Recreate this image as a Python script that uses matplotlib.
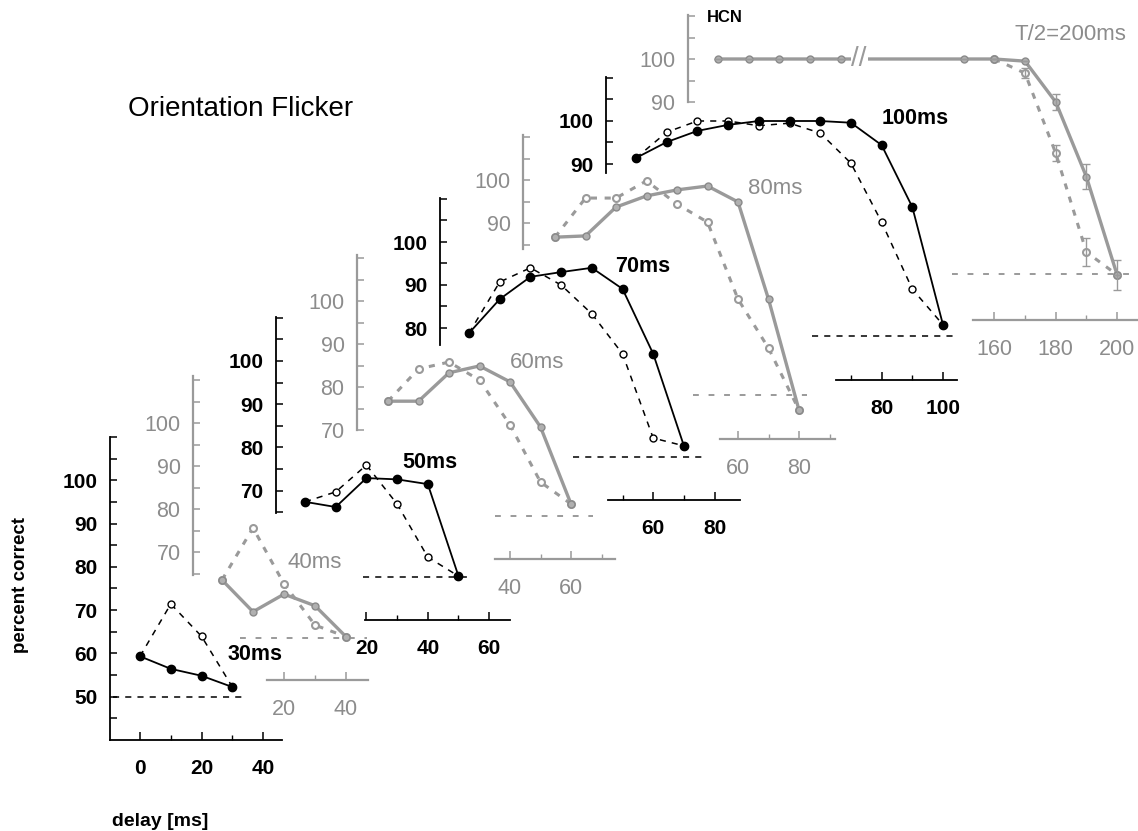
import numpy as np
import matplotlib
matplotlib.use('Agg')
import matplotlib.pyplot as plt

plt.rcParams['font.family'] = ['Liberation Sans', 'DejaVu Sans']

W, H = 1138, 831

#-------------------------------------------------------------------------
# data (percent correct vs delay in ms)
#-------------------------------------------------------------------------
delay_30 = [0, 10, 20, 30]
solid_30 = [59.3, 56.4, 54.8, 52.2]
dashed_30 = [59.3, 71.4, 63.9, 52.2]

delay_40 = [0, 10, 20, 30, 40]
solid_40 = [63.5, 56.1, 60.2, 57.5, 50.3]
dashed_40 = [63.5, 75.6, 62.6, 53.0, 50.3]

delay_50 = [0, 10, 20, 30, 40, 50]
solid_50 = [67.4, 66.2, 72.9, 72.6, 71.5, 50.2]
dashed_50 = [67.4, 69.7, 75.9, 66.9, 54.6, 50.2]

delay_60 = [0, 10, 20, 30, 40, 50, 60]
solid_60 = [76.7, 76.7, 83.3, 84.9, 81.2, 70.7, 52.8]
dashed_60 = [76.7, 84.2, 85.8, 81.6, 71.2, 57.9, 52.8]

delay_70 = [0, 10, 20, 30, 40, 50, 60, 70]
solid_70 = [78.8, 86.7, 91.9, 93.0, 94.0, 89.1, 74.0, 52.6]
dashed_70 = [78.8, 90.7, 94.0, 90.0, 83.3, 74.0, 54.4, 52.6]

delay_80 = [0, 10, 20, 30, 40, 50, 60, 70, 80]
solid_80 = [86.7, 87.0, 93.7, 96.3, 97.7, 98.6, 94.9, 72.3, 46.5]
dashed_80 = [86.7, 95.8, 95.8, 99.8, 94.4, 90.2, 72.3, 60.9, 46.5]

delay_100 = [0, 10, 20, 30, 40, 50, 60, 70, 80, 90, 100]
solid_100 = [91.4, 95.1, 97.7, 99.1, 100, 100, 100, 99.6, 94.4, 80.0, 52.6]
dashed_100 = [91.4, 97.4, 100, 100, 98.9, 99.5, 97.2, 90.2, 76.5, 60.9, 52.6]

delay_hcn = [0, 10, 20, 30, 40, 150, 160, 170, 180, 190, 200]
solid_hcn = [100, 100, 100, 100, 100, 100, 100, 99.5, 90.0, 72.6, 49.8]
solid_hcn_err = [0, 0, 0, 0, 0, 0, 0, 0, 1.9, 2.9, 3.5]
delay_hcn_dashed = [160, 170, 180, 190, 200]
dashed_hcn = [100, 96.7, 78.1, 55.1, 49.8]
dashed_hcn_err = [0, 1.2, 1.8, 3.3, 0]

CHANCE = 50

BLACK = 'black'
GRAY = '#9a9a9a'
GRAY_TXT = '#8c8c8c'


# broken x axis of the HCN panel: 40..150 ms squeezed
def hcn_fwd(x):
    x = np.asarray(x, dtype=float)
    return np.where(x <= 40, x, np.where(x >= 150, x - 70, 40 + (x - 40) * 40 / 110))


def hcn_inv(u):
    u = np.asarray(u, dtype=float)
    return np.where(u <= 40, u, np.where(u >= 80, u + 70, 40 + (u - 40) * 110 / 40))


def fpos(x, y):
    return x / W, 1 - y / H


def make_panel(fig, box, x0, sx, y100, sy, ybound, xbound, yticks, yminor,
               xticks, xminor, gray=False, hcn=False):
    left, top, right, bottom = box
    ax = fig.add_axes([left / W, 1 - bottom / H, (right - left) / W, (bottom - top) / H])
    ax.patch.set_visible(False)
    col = GRAY if gray else BLACK
    tcol = GRAY_TXT if gray else BLACK
    weight = 'normal' if gray else 'bold'
    if hcn:
        ax.set_xscale('function', functions=(hcn_fwd, hcn_inv))
        ax.set_xlim(float(hcn_inv((left - x0) / sx)), float(hcn_inv((right - x0) / sx)))
    else:
        ax.set_xlim((left - x0) / sx, (right - x0) / sx)
    ax.set_ylim(100 - (bottom - y100) / sy, 100 - (top - y100) / sy)
    for s in ['top', 'right']:
        ax.spines[s].set_visible(False)
    for s in ['left', 'bottom']:
        ax.spines[s].set_color(col)
        ax.spines[s].set_linewidth(1.6 if gray else 1.3)
    ax.spines['left'].set_bounds(*ybound)
    ax.spines['bottom'].set_bounds(*xbound)
    ax.set_yticks(yticks, labels=[str(v) for v in yticks])
    ax.set_yticks(yminor, minor=True)
    ax.set_xticks(xticks, labels=[str(v) for v in xticks])
    ax.set_xticks(xminor, minor=True)
    ax.tick_params(axis='y', which='both', direction='in', length=5, width=1.1,
                   color=col, pad=9)
    ax.tick_params(axis='x', which='major', direction='in', length=6, width=1.1,
                   color=col, pad=14)
    ax.tick_params(axis='x', which='minor', direction='in', length=3.5, width=1.0,
                   color=col)
    for t in ax.get_xticklabels() + ax.get_yticklabels():
        t.set_fontsize(15 if not gray else 15.5)
        t.set_fontweight(weight)
        t.set_color(tcol)
    return ax


def draw_curves(ax, d, solid, dashed, gray=False, d_dash=None):
    if d_dash is None:
        d_dash = d
    if gray:
        ax.plot(d_dash, dashed, color=GRAY, lw=2.2, ls=(0, (2, 2.5)), marker='o',
                ms=5, mfc='white', mec=GRAY, mew=1.5, clip_on=False, zorder=2)
        ax.plot(d, solid, color=GRAY, lw=2.4, marker='o', ms=5, mfc='#b0b0b0',
                mec='#8a8a8a', mew=1.0, clip_on=False, zorder=3)
    else:
        ax.plot(d_dash, dashed, color=BLACK, lw=1.1, ls=(0, (4, 4)), marker='o',
                ms=5, mfc='white', mec=BLACK, mew=1.0, clip_on=False, zorder=2)
        ax.plot(d, solid, color=BLACK, lw=1.3, marker='o', ms=6, mfc=BLACK,
                mec=BLACK, clip_on=False, zorder=3)


def chance(ax, xr, gray=False):
    if gray:
        ax.plot(xr, [CHANCE, CHANCE], color=GRAY, lw=1.4, ls=(0, (3, 5)), clip_on=False)
    else:
        ax.plot(xr, [CHANCE, CHANCE], color=BLACK, lw=1.1, ls=(0, (4, 4)), clip_on=False)


fig = plt.figure(figsize=(W / 100, H / 100), dpi=100)

# --- 30 ms ---
ax = make_panel(fig, (110, 437, 285, 740), 140, 3.08, 480, 4.33, (40, 110), (-9.7, 46.1),
                [50, 60, 70, 80, 90, 100], [45, 55, 65, 75, 85, 95, 105, 110],
                [0, 20, 40], [10, 30])
chance(ax, [-8.8, 34.7])
draw_curves(ax, delay_30, solid_30, dashed_30)

# --- 40 ms ---
ax = make_panel(fig, (193, 375, 370, 680), 222, 3.1, 423, 4.3, (64.7, 111), (14.5, 47),
                [70, 80, 90, 100], [65, 75, 85, 95, 105, 110],
                [20, 40], [30], gray=True)
chance(ax, [5.8, 46.8], gray=True)
draw_curves(ax, delay_40, solid_40, dashed_40, gray=True)

# --- 50 ms ---
ax = make_panel(fig, (276, 317, 512, 620), 305, 3.07, 361, 4.32, (64.8, 110.2), (19.5, 66.8),
                [70, 80, 90, 100], [65, 75, 85, 95, 105, 110],
                [20, 40, 60], [30, 50])
chance(ax, [18.9, 53.7])
draw_curves(ax, delay_50, solid_50, dashed_50)

# --- 60 ms ---
ax = make_panel(fig, (357, 257, 615, 559), 388, 3.05, 301, 4.3, (70, 110.7), (35.1, 74.4),
                [70, 80, 90, 100], [75, 85, 95, 105, 110],
                [40, 60], [50, 70], gray=True)
chance(ax, [35.1, 67.2], gray=True)
draw_curves(ax, delay_60, solid_60, dashed_60, gray=True)

# --- 70 ms ---
ax = make_panel(fig, (440, 198, 740, 500), 469, 3.07, 242, 4.3, (76, 110.2), (45.3, 88.3),
                [80, 90, 100], [85, 95, 105, 110],
                [60, 80], [50, 70])
chance(ax, [33.9, 77.2])
draw_curves(ax, delay_70, solid_70, dashed_70)

# --- 80 ms ---
ax = make_panel(fig, (523, 136, 835, 439), 555, 3.05, 180, 4.3, (84, 110.5), (54.1, 91.8),
                [90, 100], [85, 95, 105, 110],
                [60, 80], [70, 90], gray=True)
chance(ax, [45.2, 82.6], gray=True)
draw_curves(ax, delay_80, solid_80, dashed_80, gray=True)

# --- 100 ms ---
ax = make_panel(fig, (606, 77, 960, 380), 636, 3.07, 121, 4.3, (88, 110.2), (65.1, 104.6),
                [90, 100], [95, 105, 110],
                [80, 100], [70, 90])
chance(ax, [57.3, 104.9])
draw_curves(ax, delay_100, solid_100, dashed_100)

# --- HCN, T/2 = 200 ms ---
ax = make_panel(fig, (688, 15, 1138, 320), 718, 3.07, 59, 4.3, (90, 110.2), (153.1, 206.8),
                [90, 100], [95, 105, 110],
                [160, 180, 200], [170, 190], gray=True, hcn=True)
chance(ax, [float(hcn_inv(76.2)), 206.8], gray=True)
draw_curves(ax, delay_hcn, solid_hcn, dashed_hcn, gray=True, d_dash=delay_hcn_dashed)
ax.errorbar(delay_hcn, solid_hcn, yerr=solid_hcn_err, fmt='none', ecolor=GRAY,
            elinewidth=1.0, capsize=3, clip_on=False, zorder=4)
ax.errorbar(delay_hcn_dashed, dashed_hcn, yerr=dashed_hcn_err, fmt='none', ecolor=GRAY,
            elinewidth=1.0, capsize=3, clip_on=False, zorder=4)
brk = float(hcn_inv(hcn_fwd(40) + 6))
ax.text(brk, 100, '//', color=GRAY, fontsize=20, ha='center', va='center',
        bbox=dict(facecolor='white', edgecolor='none', pad=0.5), zorder=5)

# --- labels ---
fig.text(*fpos(128, 109), 'Orientation Flicker', fontsize=20, ha='left', va='center')
fig.text(*fpos(21, 585), 'percent correct', fontsize=13.5, fontweight='bold',
         rotation=90, ha='center', va='center')
fig.text(*fpos(160, 821), 'delay [ms]', fontsize=14, fontweight='bold',
         ha='center', va='center')
fig.text(*fpos(707, 17), 'HCN', fontsize=12, fontweight='bold', ha='left', va='center')
fig.text(*fpos(1015, 35), 'T/2=200ms', fontsize=16, color=GRAY_TXT, ha='left', va='center')

black_labels = [('30ms', 228, 654), ('50ms', 402, 462), ('70ms', 615, 266), ('100ms', 882, 119)]
gray_labels = [('40ms', 287, 562), ('60ms', 510, 363), ('80ms', 748, 189)]
for s, x, y in black_labels:
    fig.text(*fpos(x, y), s, fontsize=15.5, fontweight='bold', ha='left', va='center')
for s, x, y in gray_labels:
    fig.text(*fpos(x, y), s, fontsize=16, color=GRAY_TXT, ha='left', va='center')

fig.savefig('out.png', dpi=100)
